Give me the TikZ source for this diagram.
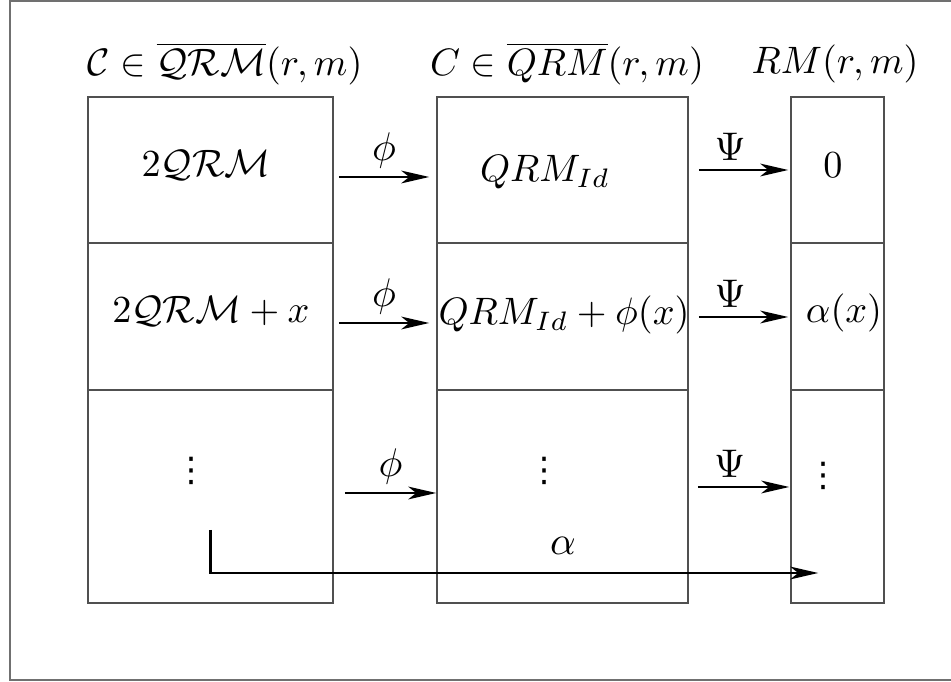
\documentclass[tikz,border=0pt]{standalone}
\usepackage{amsmath,amssymb}
\usepackage{fontspec}
\newfontfamily\symfont{DejaVu Sans}
\usepackage{tikz}
\usetikzlibrary{arrows.meta,calc}
\definecolor{Ink}{HTML}{000000}
\definecolor{Rule}{HTML}{505050}
\definecolor{Frame}{HTML}{707070}
\tikzset{
  cell/.style={draw=Rule,line width=0.4pt,inner sep=0pt},
  colA/.style={cell,minimum width=61.25pt},
  colB/.style={cell,minimum width=62.75pt},
  colC/.style={cell,minimum width=23.25pt},
  rowA/.style={minimum height=36.5pt},
  rowB/.style={minimum height=36.75pt},
  rowC/.style={minimum height=53.25pt},
  txt/.style={anchor=base,inner sep=0pt,scale=0.955,transform shape},
  dots/.style={inner sep=0pt,font=\symfont\fontsize{8.5}{9}\selectfont},
  arr/.style={-{Stealth[length=7pt,width=3.2pt,inset=2pt]},line width=0.6pt,draw=Ink},
  lbl/.style={inner sep=2pt},
}

\begin{document}
\begin{tikzpicture}[x=0.25pt,y=-0.25pt]
 \useasboundingbox (0,0) rectangle (951,682);
 \draw[Frame,line width=0.5pt] (951,1) -- (10,1) -- (10,680) -- (951,680);
 % columns of cells
 \node[colA,rowA] (c11) at (210.5,170) {};
 \node[colB,rowA] (c12) at (562.5,170) {};
 \node[colC,rowA] (c13) at (837.5,170) {};
 \node[colA,rowB] (c21) at (210.5,316.5) {};
 \node[colB,rowB] (c22) at (562.5,316.5) {};
 \node[colC,rowB] (c23) at (837.5,316.5) {};
 \node[colA,rowC] (c31) at (210.5,496.5) {};
 \node[colB,rowC] (c32) at (562.5,496.5) {};
 \node[colC,rowC] (c33) at (837.5,496.5) {};
 % headers
 \node[txt] (h1) at (225,76) {$\mathcal{C}\in\overline{\mathcal{QRM}}(r,m)$};
 \node[txt] (h2) at (567,76) {$C\in\overline{QRM}(r,m)$};
 \node[txt] (h3) at (835,74) {$RM(r,m)$};
 % contents
 \node[txt] (t11) at (206,177) {$2\mathcal{QRM}$};
 \node[txt] (t12) at (545,182) {$QRM_{Id}$};
 \node[txt] (t13) at (833,178) {$0$};
 \node[txt] (t21) at (211,323) {$2\mathcal{QRM}+x$};
 \node[txt] (t22) at (564,325) {$QRM_{Id}+\phi(x)$};
 \node[txt] (t23) at (844,323) {$\alpha(x)$};
 \node[dots] (t31) at (191,471) {⋮};
 \node[dots] (t32) at (544,471) {⋮};
 \node[dots] (t33) at (823,476) {⋮};
 % maps
 \draw[arr] ($(c11.east)+(5,7)$) -- node[lbl,above]{$\phi$} ($(c12.west)+(-7,7)$);
 \draw[arr] ($(c12.east)+(10,0)$) -- node[lbl,above,pos=.35]{$\Psi$} ($(c13.west)+(-2,0)$);
 \draw[arr] ($(c21.east)+(5,6.5)$) -- node[lbl,above]{$\phi$} ($(c22.west)+(-7,6.5)$);
 \draw[arr] ($(c22.east)+(10,0.5)$) -- node[lbl,above,pos=.35]{$\Psi$} ($(c23.west)+(-2,0.5)$);
 \draw[arr] ($(c31.east)+(11,-3.5)$) -- node[lbl,above]{$\phi$} ($(c32.west)+(0,-3.5)$);
 \draw[arr] ($(c32.east)+(9,-9.5)$) -- node[lbl,above,pos=.35]{$\Psi$} ($(c33.west)+(-1,-9.5)$);
 \coordinate (a0) at ($(c31.center)+(0,33.5)$);
 \coordinate (a1) at ($(c33.west)+(28,76.5)$);
 \draw[arr] (a0) |- node[lbl,pos=.79,above=2.4pt]{$\alpha$} (a1);
\end{tikzpicture}
\end{document}
